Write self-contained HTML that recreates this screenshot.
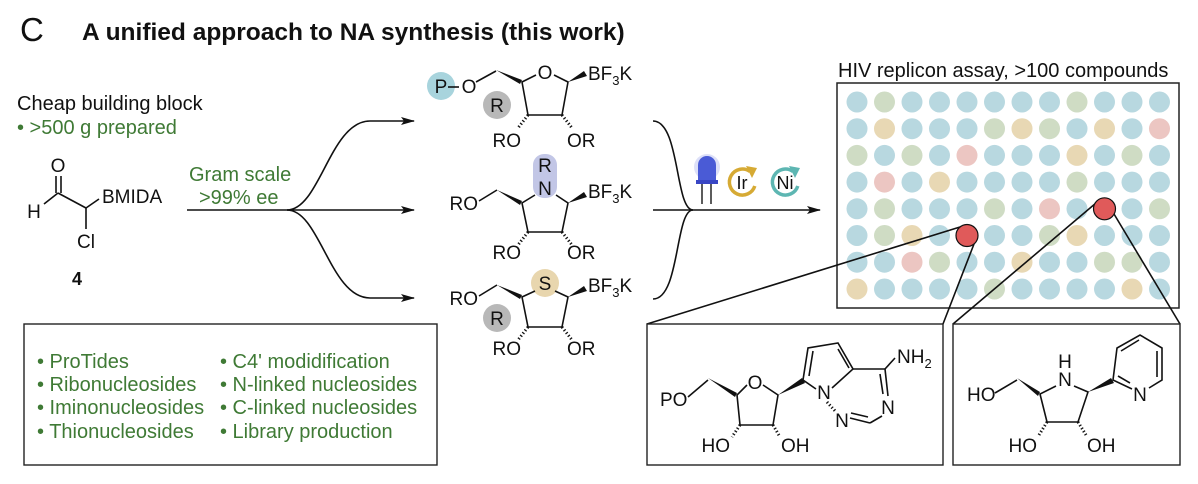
<!DOCTYPE html>
<html><head><meta charset="utf-8"><style>
html,body{margin:0;padding:0;background:#fff;}
svg{display:block;font-family:"Liberation Sans",Arial,sans-serif;}
.t{font-size:20px;fill:#111;}
.a{font-size:19px;fill:#111;text-anchor:middle;}
.m{font-size:19px;fill:#111;}
.g{font-size:20px;fill:#3f7a35;}
.b{stroke:#111;stroke-width:1.6;fill:none;}
.h{stroke:#111;stroke-width:3;stroke-dasharray:1.3 2.2;fill:none;}
.cb{fill:#b8d8e0}.cg{fill:#cfdcc4}.co{fill:#e8d8b4}.cp{fill:#ecc6c2}
</style></head><body>
<svg width="1198" height="484" viewBox="0 0 1198 484" xmlns="http://www.w3.org/2000/svg">
<defs><marker id="ar" markerWidth="14" markerHeight="8" refX="13" refY="4" orient="auto" markerUnits="userSpaceOnUse"><path d="M0,0 L14,4 L0,8 L3,4 Z" fill="#111"/></marker></defs>
<text x="20" y="41" font-size="33" fill="#111">C</text>
<text x="82" y="40" font-size="24.5" font-weight="bold" fill="#111">A unified approach to NA synthesis (this work)</text>

<text x="17" y="110" class="t">Cheap building block</text>
<text x="17" y="134" class="g">• &gt;500 g prepared</text>
<!-- molecule 4 -->
<text x="58" y="172" class="a">O</text>
<line x1="56" y1="176" x2="56" y2="193" class="b"/><line x1="61" y1="176" x2="61" y2="193" class="b"/>
<text x="34" y="218" class="a">H</text>
<line x1="44" y1="204" x2="58" y2="193" class="b"/>
<line x1="58" y1="193" x2="86" y2="208" class="b"/>
<line x1="86" y1="208" x2="99" y2="199" class="b"/>
<text x="102" y="203" class="m">BMIDA</text>
<line x1="86" y1="208" x2="86" y2="229" class="b"/>
<text x="86" y="248" class="a">Cl</text>
<text x="72" y="285" font-size="18" font-weight="bold" fill="#111">4</text>

<text x="189" y="181" class="g">Gram scale</text>
<text x="199" y="204" class="g">&gt;99% ee</text>
<line x1="187" y1="210" x2="414" y2="210" class="b" marker-end="url(#ar)"/>
<path d="M287,210 C320,210 330,121 370,121 L414,121" class="b" marker-end="url(#ar)"/>
<path d="M287,210 C320,210 330,298 370,298 L414,298" class="b" marker-end="url(#ar)"/>

<rect x="24" y="324" width="413" height="141" fill="none" stroke="#222" stroke-width="1.4"/>
<g class="g">
<text x="37" y="368">• ProTides</text><text x="37" y="391">• Ribonucleosides</text>
<text x="37" y="414">• Iminonucleosides</text><text x="37" y="438">• Thionucleosides</text>
<text x="220" y="368">• C4' modidification</text><text x="220" y="391">• N-linked nucleosides</text>
<text x="220" y="414">• C-linked nucleosides</text><text x="220" y="438">• Library production</text>
</g>

<!-- Mol1 -->
<circle cx="441" cy="86" r="14" fill="#a8d4dd"/>
<circle cx="497" cy="105" r="14" fill="#b8b8b8"/>
<text x="441" y="93" class="a">P</text>
<line x1="448" y1="87" x2="459" y2="87" class="b"/>
<text x="469" y="93" class="a">O</text>
<line x1="476" y1="82" x2="496" y2="71" class="b"/>
<polygon points="496,70 522,80 520,84" fill="#111"/>
<text x="497" y="112" class="a">R</text>
<text x="545" y="79" class="a">O</text>
<polyline points="536,75 522,82 528,115 562,115 568,82 554,75" class="b"/>
<polygon points="568,82 584,71 587,76" fill="#111"/>
<text x="588" y="80" class="m">BF<tspan font-size="13" dy="5">3</tspan><tspan dy="-5">K</tspan></text>
<line x1="528" y1="115" x2="518" y2="128" class="h"/><line x1="562" y1="115" x2="572" y2="128" class="h"/>
<text x="521" y="147" class="m" text-anchor="end">RO</text><text x="567" y="147" class="m">OR</text>

<!-- Mol2 -->
<rect x="533" y="154" width="24" height="44" rx="11" fill="#c2c6e6"/>
<text x="545" y="172" class="a">R</text>
<text x="545" y="195" class="a">N</text>
<polyline points="535,195 522,203 528,232 562,232 568,203 556,195" class="b"/>
<polygon points="568,203 584,192 587,197" fill="#111"/>
<text x="588" y="198" class="m">BF<tspan font-size="13" dy="5">3</tspan><tspan dy="-5">K</tspan></text>
<polygon points="497,190 522,201 520,205" fill="#111"/>
<line x1="479" y1="201" x2="497" y2="190" class="b"/>
<text x="478" y="210" class="m" text-anchor="end">RO</text>
<line x1="528" y1="232" x2="518" y2="245" class="h"/><line x1="562" y1="232" x2="572" y2="245" class="h"/>
<text x="521" y="259" class="m" text-anchor="end">RO</text><text x="567" y="259" class="m">OR</text>

<!-- Mol3 -->
<circle cx="545" cy="283" r="14" fill="#e8d6ae"/>
<circle cx="497" cy="318" r="14" fill="#b8b8b8"/>
<text x="545" y="290" class="a">S</text>
<text x="497" y="325" class="a">R</text>
<polyline points="535,291 522,297 528,327 562,327 568,297 555,291" class="b"/>
<polygon points="568,297 584,286 587,291" fill="#111"/>
<text x="588" y="292" class="m">BF<tspan font-size="13" dy="5">3</tspan><tspan dy="-5">K</tspan></text>
<polygon points="497,285 522,295 520,299" fill="#111"/>
<line x1="479" y1="296" x2="497" y2="285" class="b"/>
<text x="478" y="305" class="m" text-anchor="end">RO</text>
<line x1="528" y1="327" x2="518" y2="340" class="h"/><line x1="562" y1="327" x2="572" y2="340" class="h"/>
<text x="521" y="355" class="m" text-anchor="end">RO</text><text x="567" y="355" class="m">OR</text>

<!-- reaction arrow 2 -->
<path d="M653,121 C680,121 675,210 693,210" class="b"/>
<path d="M653,299 C680,299 675,210 693,210" class="b"/>
<line x1="653" y1="210" x2="820" y2="210" class="b" marker-end="url(#ar)"/>
<!-- LED -->
<circle cx="707" cy="167" r="13" fill="#c6ccf4" opacity="0.6"/>
<path d="M698,183 L698,165 A9,9 0 0 1 716,165 L716,183 Z" fill="#4a5bd6"/>
<rect x="696" y="180" width="22" height="4" fill="#3946c4"/>
<line x1="702" y1="184" x2="702" y2="204" stroke="#333" stroke-width="1.6"/>
<line x1="711" y1="184" x2="711" y2="204" stroke="#333" stroke-width="1.6"/>
<!-- Ir -->
<path d="M754.8,186 A13,13 0 1 1 750,171.5" fill="none" stroke="#d6aa34" stroke-width="3.5"/>
<polygon points="746,166 757,168 752,178" fill="#d6aa34"/>
<text x="742" y="189" font-size="18" fill="#111" text-anchor="middle">Ir</text>
<!-- Ni -->
<path d="M797.8,186 A13,13 0 1 1 793,171.5" fill="none" stroke="#5db6b2" stroke-width="3.5"/>
<polygon points="789,166 800,168 795,178" fill="#5db6b2"/>
<text x="785" y="189" font-size="18" fill="#111" text-anchor="middle">Ni</text>

<!-- plate -->
<text x="838" y="77" class="t">HIV replicon assay, &gt;100 compounds</text>
<rect x="837" y="83" width="342" height="225" fill="#fff" stroke="#222" stroke-width="1.5"/>
<g>
<circle cx="857" cy="102" r="10.5" class="cb"/><circle cx="884.5" cy="102" r="10.5" class="cg"/><circle cx="912" cy="102" r="10.5" class="cb"/><circle cx="939.5" cy="102" r="10.5" class="cb"/><circle cx="967" cy="102" r="10.5" class="cb"/><circle cx="994.5" cy="102" r="10.5" class="cb"/><circle cx="1022" cy="102" r="10.5" class="cb"/><circle cx="1049.5" cy="102" r="10.5" class="cb"/><circle cx="1077" cy="102" r="10.5" class="cg"/><circle cx="1104.5" cy="102" r="10.5" class="cb"/><circle cx="1132" cy="102" r="10.5" class="cb"/><circle cx="1159.5" cy="102" r="10.5" class="cb"/>
<circle cx="857" cy="128.7" r="10.5" class="cb"/><circle cx="884.5" cy="128.7" r="10.5" class="co"/><circle cx="912" cy="128.7" r="10.5" class="cb"/><circle cx="939.5" cy="128.7" r="10.5" class="cb"/><circle cx="967" cy="128.7" r="10.5" class="cb"/><circle cx="994.5" cy="128.7" r="10.5" class="cg"/><circle cx="1022" cy="128.7" r="10.5" class="co"/><circle cx="1049.5" cy="128.7" r="10.5" class="cg"/><circle cx="1077" cy="128.7" r="10.5" class="cb"/><circle cx="1104.5" cy="128.7" r="10.5" class="co"/><circle cx="1132" cy="128.7" r="10.5" class="cb"/><circle cx="1159.5" cy="128.7" r="10.5" class="cp"/>
<circle cx="857" cy="155.4" r="10.5" class="cg"/><circle cx="884.5" cy="155.4" r="10.5" class="cb"/><circle cx="912" cy="155.4" r="10.5" class="cg"/><circle cx="939.5" cy="155.4" r="10.5" class="cb"/><circle cx="967" cy="155.4" r="10.5" class="cp"/><circle cx="994.5" cy="155.4" r="10.5" class="cb"/><circle cx="1022" cy="155.4" r="10.5" class="cb"/><circle cx="1049.5" cy="155.4" r="10.5" class="cb"/><circle cx="1077" cy="155.4" r="10.5" class="co"/><circle cx="1104.5" cy="155.4" r="10.5" class="cb"/><circle cx="1132" cy="155.4" r="10.5" class="cg"/><circle cx="1159.5" cy="155.4" r="10.5" class="cb"/>
<circle cx="857" cy="182.1" r="10.5" class="cb"/><circle cx="884.5" cy="182.1" r="10.5" class="cp"/><circle cx="912" cy="182.1" r="10.5" class="cb"/><circle cx="939.5" cy="182.1" r="10.5" class="co"/><circle cx="967" cy="182.1" r="10.5" class="cb"/><circle cx="994.5" cy="182.1" r="10.5" class="cb"/><circle cx="1022" cy="182.1" r="10.5" class="cb"/><circle cx="1049.5" cy="182.1" r="10.5" class="cb"/><circle cx="1077" cy="182.1" r="10.5" class="cg"/><circle cx="1104.5" cy="182.1" r="10.5" class="cb"/><circle cx="1132" cy="182.1" r="10.5" class="cb"/><circle cx="1159.5" cy="182.1" r="10.5" class="cb"/>
<circle cx="857" cy="208.8" r="10.5" class="cb"/><circle cx="884.5" cy="208.8" r="10.5" class="cg"/><circle cx="912" cy="208.8" r="10.5" class="cb"/><circle cx="939.5" cy="208.8" r="10.5" class="cb"/><circle cx="967" cy="208.8" r="10.5" class="cb"/><circle cx="994.5" cy="208.8" r="10.5" class="cg"/><circle cx="1022" cy="208.8" r="10.5" class="cb"/><circle cx="1049.5" cy="208.8" r="10.5" class="cp"/><circle cx="1077" cy="208.8" r="10.5" class="cb"/><circle cx="1132" cy="208.8" r="10.5" class="cb"/><circle cx="1159.5" cy="208.8" r="10.5" class="cg"/>
<circle cx="857" cy="235.5" r="10.5" class="cb"/><circle cx="884.5" cy="235.5" r="10.5" class="cg"/><circle cx="912" cy="235.5" r="10.5" class="co"/><circle cx="939.5" cy="235.5" r="10.5" class="cb"/><circle cx="994.5" cy="235.5" r="10.5" class="cb"/><circle cx="1022" cy="235.5" r="10.5" class="cb"/><circle cx="1049.5" cy="235.5" r="10.5" class="cg"/><circle cx="1077" cy="235.5" r="10.5" class="co"/><circle cx="1104.5" cy="235.5" r="10.5" class="cb"/><circle cx="1132" cy="235.5" r="10.5" class="cb"/><circle cx="1159.5" cy="235.5" r="10.5" class="cb"/>
<circle cx="857" cy="262.2" r="10.5" class="cb"/><circle cx="884.5" cy="262.2" r="10.5" class="cb"/><circle cx="912" cy="262.2" r="10.5" class="cp"/><circle cx="939.5" cy="262.2" r="10.5" class="cg"/><circle cx="967" cy="262.2" r="10.5" class="cb"/><circle cx="994.5" cy="262.2" r="10.5" class="cb"/><circle cx="1022" cy="262.2" r="10.5" class="co"/><circle cx="1049.5" cy="262.2" r="10.5" class="cb"/><circle cx="1077" cy="262.2" r="10.5" class="cb"/><circle cx="1104.5" cy="262.2" r="10.5" class="cg"/><circle cx="1132" cy="262.2" r="10.5" class="cg"/><circle cx="1159.5" cy="262.2" r="10.5" class="cb"/>
<circle cx="857" cy="289" r="10.5" class="co"/><circle cx="884.5" cy="289" r="10.5" class="cb"/><circle cx="912" cy="289" r="10.5" class="cb"/><circle cx="939.5" cy="289" r="10.5" class="cb"/><circle cx="967" cy="289" r="10.5" class="cb"/><circle cx="994.5" cy="289" r="10.5" class="cg"/><circle cx="1022" cy="289" r="10.5" class="cb"/><circle cx="1049.5" cy="289" r="10.5" class="cb"/><circle cx="1077" cy="289" r="10.5" class="cb"/><circle cx="1104.5" cy="289" r="10.5" class="cb"/><circle cx="1132" cy="289" r="10.5" class="co"/><circle cx="1159.5" cy="289" r="10.5" class="cb"/>
</g>
<!-- zoom lines -->
<line x1="960" y1="227" x2="647" y2="324" class="b" stroke-width="1.4"/>
<line x1="974" y1="244" x2="943" y2="324" class="b" stroke-width="1.4"/>
<line x1="1096" y1="203" x2="953" y2="324" class="b" stroke-width="1.4"/>
<line x1="1114" y1="214" x2="1180" y2="324" class="b" stroke-width="1.4"/>
<circle cx="967" cy="235.5" r="11" fill="#e05a5a" stroke="#111" stroke-width="1.2"/>
<circle cx="1104.5" cy="208.8" r="11" fill="#e05a5a" stroke="#111" stroke-width="1.2"/>

<!-- bottom boxes -->
<rect x="647" y="324" width="296" height="141" fill="#fff" stroke="#222" stroke-width="1.4"/>
<rect x="953" y="324" width="227" height="141" fill="#fff" stroke="#222" stroke-width="1.4"/>

<!-- left product -->
<text x="660" y="406" class="m">PO</text>
<line x1="688" y1="397" x2="708" y2="380" class="b"/>
<polygon points="708,378 737,393 735,397" fill="#111"/>
<text x="755" y="389" class="a">O</text>
<polyline points="747,385 737,395 740,425 773,425 778,395 763,385" class="b"/>
<line x1="740" y1="425" x2="732" y2="437" class="h"/><line x1="773" y1="425" x2="780" y2="437" class="h"/>
<text x="730" y="452" class="m" text-anchor="end">HO</text><text x="781" y="452" class="m">OH</text>
<polygon points="778,395 802,378 805,383" fill="#111"/>
<polyline points="816,389 803,380 808,348 838,343 853,369 832,388" class="b"/>
<line x1="809" y1="376" x2="813" y2="351" class="b"/>
<line x1="838" y1="349" x2="849" y2="368" class="b"/>
<line x1="853" y1="369" x2="885" y2="369" class="b"/>
<line x1="885" y1="369" x2="895" y2="358" class="b"/>
<text x="897" y="363" class="m">NH<tspan font-size="13" dy="5">2</tspan></text>
<line x1="885" y1="369" x2="888" y2="396" class="b"/>
<line x1="880" y1="374" x2="883" y2="394" class="b"/>
<text x="824" y="399" class="a">N</text>
<line x1="827" y1="402" x2="836" y2="412" class="h" stroke-width="1.6" stroke-dasharray="2 2"/>
<text x="842" y="427" class="a">N</text>
<text x="888" y="414" class="a">N</text>
<line x1="882" y1="416" x2="870" y2="423" class="b"/>
<line x1="850" y1="418" x2="870" y2="423" class="b"/>
<line x1="851" y1="413" x2="868" y2="417" class="b"/>

<!-- right product -->
<text x="967" y="401" class="m">HO</text>
<line x1="995" y1="393" x2="1017" y2="380" class="b"/>
<polygon points="1017,378 1040,392 1038,396" fill="#111"/>
<text x="1065" y="368" class="a">H</text>
<text x="1065" y="386" class="a">N</text>
<polyline points="1056,386 1040,394 1047,422 1078,422 1088,392 1074,386" class="b"/>
<line x1="1047" y1="422" x2="1039" y2="435" class="h"/><line x1="1078" y1="422" x2="1086" y2="435" class="h"/>
<text x="1037" y="452" class="m" text-anchor="end">HO</text><text x="1087" y="452" class="m">OH</text>
<polygon points="1088,392 1111,378 1114,383" fill="#111"/>
<polyline points="1132,389 1113,380 1117,348 1140,335 1162,348 1162,380 1149,388" class="b"/>
<line x1="1121" y1="351" x2="1139" y2="340" class="b"/>
<line x1="1157" y1="351" x2="1157" y2="377" class="b"/>
<line x1="1118" y1="376" x2="1130" y2="383" class="b"/>
<text x="1140" y="401" class="a">N</text>
</svg>
</body></html>
